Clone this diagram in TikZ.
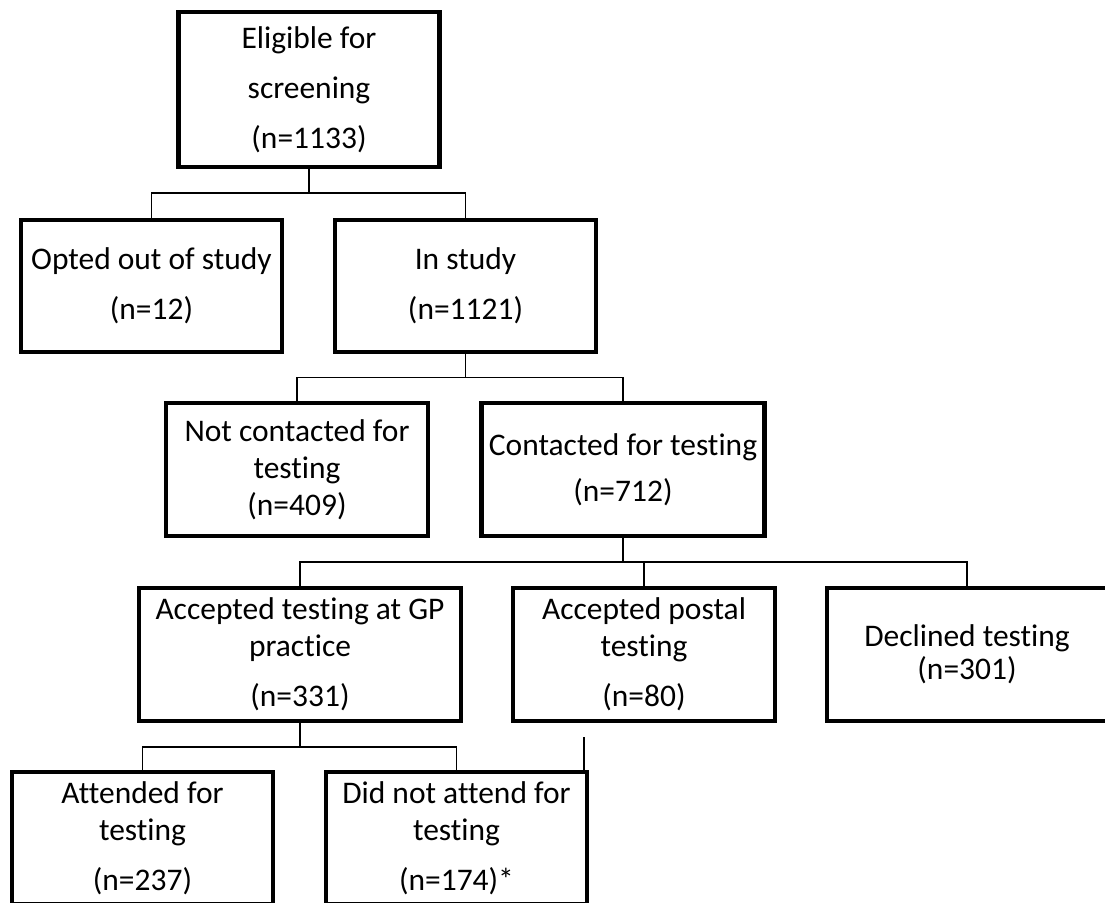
\documentclass[tikz,border=0pt]{standalone}
\usepackage{fontspec}
\setmainfont[Ligatures={NoCommon}]{Carlito}
\begin{document}
\begin{tikzpicture}[x=0.75pt,y=-0.75pt,
  box/.style={draw=black, line width=3.2pt, fill=white, align=center, inner sep=0pt,
    minimum height=#1, font=\fontsize{23.6}{27.75}\selectfont},
  box/.default={99.5pt},
  conn/.style={draw=black, line width=1.1pt}]
  % page frame
  \clip (0,0) rectangle (1105,902);
  \fill[white] (0,0) rectangle (1105,902);

  % boxes
  \node[box={116pt}, minimum width=195.75pt] (elig) at (309,89.5)
    {Eligible for\\[9.75pt]screening\\[9.75pt](n=1133)};
  \node[box, minimum width=195.75pt] (opted) at (151.5,286)
    {Opted out of study\\[9.75pt](n=12)};
  \node[box, minimum width=195.75pt] (instudy) at (465.5,286)
    {In study\\[9.75pt](n=1121)};
  \node[box, minimum width=196.5pt] (notc) at (297,469.5)
    {Not contacted for\\testing\\(n=409)};
  \node[box, minimum width=212.25pt] (cont) at (623,469.5)
    {Contacted for testing\\[6.75pt](n=712)};
  \node[box, minimum width=241.5pt] (gp) at (300,654.5)
    {Accepted testing at GP\\practice\\[9.75pt](n=331)};
  \node[box, minimum width=196.5pt] (postal) at (644,654.5)
    {Accepted postal\\testing\\[9.75pt](n=80)};
  \node[box, minimum width=210pt] (decl) at (967,654.5)
    {Declined testing\\[-3pt](n=301)};
  \node[box, minimum width=195.75pt] (att) at (142.5,838)
    {Attended for\\testing\\[9.75pt](n=237)};
  \node[box, minimum width=195.75pt] (dna) at (456.5,838)
    {Did not attend for\\testing\\[9.75pt](n=174)*};

  % junction levels
  \coordinate (j1) at (309,193);
  \coordinate (j2) at (466,377.7);
  \coordinate (j3) at (623,562);
  \coordinate (j4) at (300,747);
  \coordinate (tick) at (584,737);

  % connectors
  \draw[conn] (elig.south) -- (elig.south |- j1);
  \draw[conn] (opted.north) |- (j1) -| (instudy.north);
  \draw[conn] (instudy.south) -- (instudy.south |- j2);
  \draw[conn] (notc.north) |- (j2) -| (cont.north);
  \draw[conn] (cont.south) -- (cont.south |- j3);
  \draw[conn] (gp.north) |- (j3) -| (decl.north);
  \draw[conn] (postal.north) -- (postal.north |- j3);
  \draw[conn] (gp.south) -- (gp.south |- j4);
  \draw[conn] (att.north) |- (j4) -| (dna.north);
  \draw[conn] (tick) -- (tick |- dna.north);
\end{tikzpicture}
\end{document}
